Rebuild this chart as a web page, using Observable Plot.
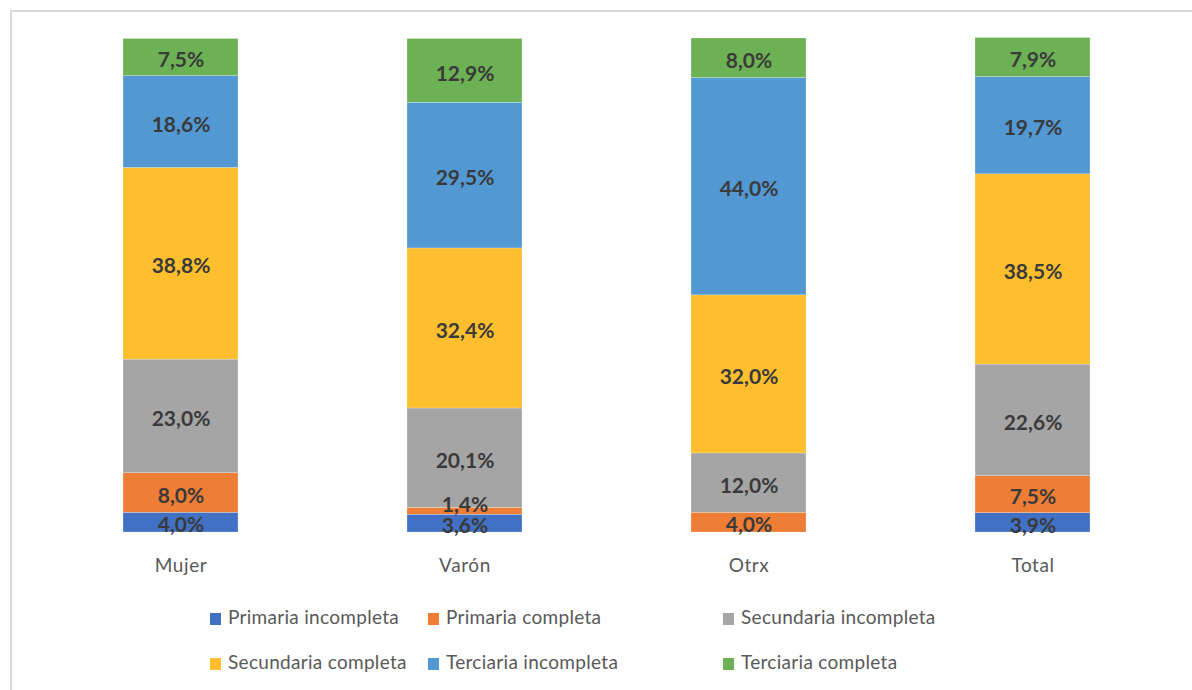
<!DOCTYPE html>
<html>
<head>
<meta charset="utf-8">
<script src="https://cdn.jsdelivr.net/npm/d3@7"></script>
<script src="https://cdn.jsdelivr.net/npm/@observablehq/plot@0.6"></script>
<style>
  html, body { margin: 0; padding: 0; background: #fff; }
  #wrap { position: relative; width: 1192px; height: 690px; overflow: hidden; }
  #frame { position: absolute; left: 10px; top: 10px; width: 1200px; height: 700px; border-left: 2px solid #d9d9d9; border-top: 2px solid #d9d9d9; box-sizing: border-box; }
  #chart { position: absolute; left: 0; top: 0; }
  .leg { position: absolute; font-family: Lato, "Open Sans", sans-serif; font-size: 19px; color: #595959; white-space: nowrap; line-height: 20px; letter-spacing: 0.3px; }
  .leg span.sw { display: inline-block; width: 11px; height: 12px; margin-right: 7px; vertical-align: -1px; }
</style>
</head>
<body>
<div id="wrap">
  <div id="frame"></div>
  <div id="chart"></div>
  <div id="legend"></div>
</div>
<script>
const categories = ["Mujer", "Varón", "Otrx", "Total"];
const series = ["Primaria incompleta", "Primaria completa", "Secundaria incompleta", "Secundaria completa", "Terciaria incompleta", "Terciaria completa"];
const colors = ["#4171C4", "#EE7D35", "#A5A5A5", "#FDBF2D", "#5298D3", "#6CB153"];
const primariaIncompleta = [4.0, 3.6, 0.0, 3.9];
const primariaCompleta = [8.0, 1.4, 4.0, 7.5];
const secundariaIncompleta = [23.0, 20.1, 12.0, 22.6];
const secundariaCompleta = [38.8, 32.4, 32.0, 38.5];
const terciariaIncompleta = [18.6, 29.5, 44.0, 19.7];
const terciariaCompleta = [7.5, 12.9, 8.0, 7.9];

const seriesValues = [primariaIncompleta, primariaCompleta, secundariaIncompleta, secundariaCompleta, terciariaIncompleta, terciariaCompleta];
const data = [];
categories.forEach((c, i) => {
  series.forEach((s, j) => {
    data.push({category: c, series: s, value: seriesValues[j][i]});
  });
});
const fmt = v => v.toFixed(1).replace(".", ",") + "%";
// thin segments whose label sits above the segment centre
const isThin = d => d.value > 0 && d.value < 2;

const textOpts = (extra) => Plot.stackY({
  x: "category", y: "value", z: "series", order: series,
  fill: "#3a3a3a", fontSize: 21, fontWeight: "bold", ...extra
});

const chart = Plot.plot({
  width: 1192,
  height: 590,
  marginTop: 38,
  marginBottom: 58,
  marginLeft: 38,
  marginRight: 16,
  style: {fontFamily: "Lato, 'Open Sans', sans-serif", background: "transparent"},
  x: {domain: categories, paddingInner: 0.595, paddingOuter: 0.2975, label: null, tickSize: 0, tickPadding: 26},
  y: {domain: [0, 100], axis: null},
  color: {domain: series, range: colors},
  marks: [
    Plot.barY(data, {x: "category", y: "value", fill: "series", z: "series", order: series, inset: 0, stroke: "#fff", strokeWidth: 0.4, strokeOpacity: 0.6}),
    Plot.ruleY([0], {stroke: "#d9d9d9", strokeWidth: 2, x1: 35, x2: 1180, transform: null}),
    Plot.text(data, textOpts({text: d => (d.value > 0 && !isThin(d)) ? fmt(d.value) : "", dy: 3})),
    Plot.text(data, textOpts({text: d => isThin(d) ? fmt(d.value) : "", dy: -6}))
  ]
});
chart.querySelectorAll("[aria-label='x-axis tick label'] text").forEach(t => {
  t.setAttribute("font-size", "19");
  t.setAttribute("fill", "#595959");
  t.style.letterSpacing = "0.6px";
});
document.getElementById("chart").appendChild(chart);

// legend
const legendPos = [[210, 607], [428, 607], [723, 607], [210, 652], [428, 652], [723, 652]];
const leg = document.getElementById("legend");
series.forEach((s, i) => {
  const d = document.createElement("div");
  d.className = "leg";
  d.style.left = legendPos[i][0] + "px";
  d.style.top = legendPos[i][1] + "px";
  d.innerHTML = `<span class="sw" style="background:${colors[i]}"></span>${s}`;
  leg.appendChild(d);
});
</script>
</body>
</html>
